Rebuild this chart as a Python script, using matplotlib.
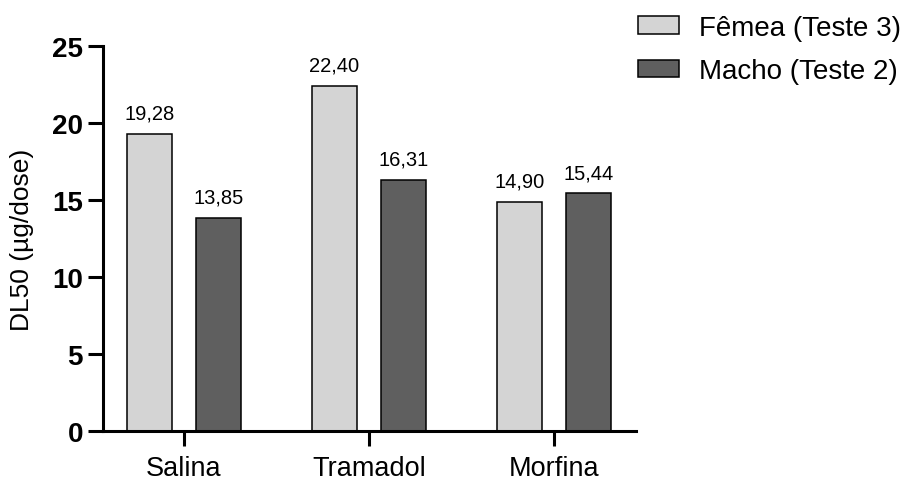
import numpy as np
import matplotlib
matplotlib.use("Agg")
import matplotlib.pyplot as plt

plt.rcParams['font.family'] = ['Liberation Sans', 'DejaVu Sans']

grupos = ["Salina", "Tramadol", "Morfina"]
femea = [19.28, 22.40, 14.90]
macho = [13.85, 16.31, 15.44]
rotulos_femea = ["19,28", "22,40", "14,90"]
rotulos_macho = ["13,85", "16,31", "15,44"]

fig = plt.figure(figsize=(9.11, 4.81), dpi=100)
ax = fig.add_axes([0.1131, 0.1019, 0.585, 0.8004])

x = np.arange(len(grupos))
w = 0.243
off = 0.1875
b1 = ax.bar(x - off, femea, w, color="#d4d4d4", edgecolor="black", linewidth=1.1,
            label="Fêmea (Teste 3)")
b2 = ax.bar(x + off, macho, w, color="#5f5f5f", edgecolor="black", linewidth=1.1,
            label="Macho (Teste 2)")

for rect, txt in zip(b1, rotulos_femea):
    ax.annotate(txt, (rect.get_x() + rect.get_width() / 2, rect.get_height()),
                xytext=(0, 8), textcoords="offset points", ha="center", va="bottom", fontsize=14.5)
for rect, txt in zip(b2, rotulos_macho):
    ax.annotate(txt, (rect.get_x() + rect.get_width() / 2, rect.get_height()),
                xytext=(0, 8), textcoords="offset points", ha="center", va="bottom", fontsize=14.5)

ax.set_xlim(-0.438, 2.443)
ax.set_ylim(0, 25)
ax.set_yticks([0, 5, 10, 15, 20, 25])
ax.set_xticks(x)
ax.set_xticklabels(grupos, fontsize=19.5)
for lab in ax.get_yticklabels():
    lab.set_fontweight("bold")
    lab.set_fontsize(20)

ax.spines["top"].set_visible(False)
ax.spines["right"].set_visible(False)
ax.spines["left"].set_linewidth(2.2)
ax.spines["bottom"].set_linewidth(2.2)
ax.tick_params(axis="y", length=11, width=2.2, pad=3.5)
ax.tick_params(axis="x", length=11, width=2.2, pad=6)

ax.set_ylabel("DL50 (µg/dose)", fontsize=19, labelpad=13)

fig.legend(loc="upper left", bbox_to_anchor=(0.70, 0.967), frameon=False, fontsize=20,
           handlelength=1.48, handleheight=0.58, handletextpad=0.72, labelspacing=0.62,
           borderpad=0, borderaxespad=0)

fig.savefig("out.png", dpi=100)
